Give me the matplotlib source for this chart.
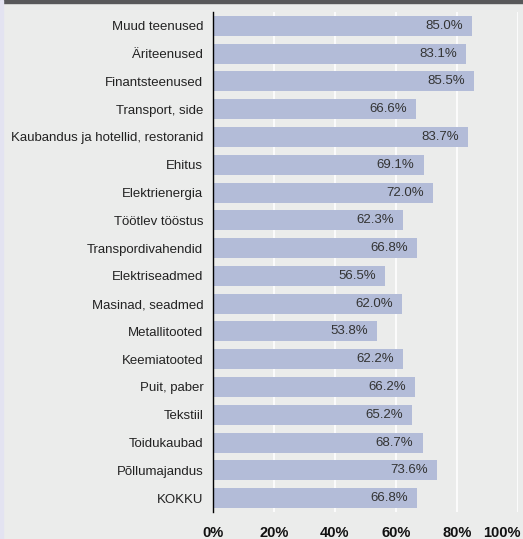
import matplotlib.pyplot as plt
import matplotlib.transforms as mtransforms
import numpy as np

# andmed (ülevalt alla)
categories = ["Muud teenused", "Äriteenused", "Finantsteenused", "Transport, side",
              "Kaubandus ja hotellid, restoranid", "Ehitus", "Elektrienergia",
              "Töötlev tööstus", "Transpordivahendid", "Elektriseadmed",
              "Masinad, seadmed", "Metallitooted", "Keemiatooted", "Puit, paber",
              "Tekstiil", "Toidukaubad", "Põllumajandus", "KOKKU"]
values = [85.0, 83.1, 85.5, 66.6, 83.7, 69.1, 72.0, 62.3, 66.8, 56.5,
          62.0, 53.8, 62.2, 66.2, 65.2, 68.7, 73.6, 66.8]
x_ticks = [0, 20, 40, 60, 80, 100]
x_tick_labels = ["0%", "20%", "40%", "60%", "80%", "100%"]

bg = "#EBECEB"
bar_color = "#B3BCD8"

plt.rcParams['font.family'] = ['Liberation Sans', 'DejaVu Sans']

fig = plt.figure(figsize=(5.23, 5.39), dpi=100, facecolor=bg)
ax = fig.add_axes([213 / 523, 27 / 539, 305 / 523, 500 / 539])
ax.set_facecolor(bg)

# kaunistused: tume riba üleval, lilla riba vasakul
fig.patches.append(plt.Rectangle((0, 1 - 3 / 539), 1, 3 / 539, transform=fig.transFigure,
                                 color="#58585A", zorder=0))
fig.patches.append(plt.Rectangle((0, 0), 3 / 523, 1, transform=fig.transFigure,
                                 color="#E3E3F1", zorder=0))

y = np.arange(len(categories))
ax.barh(y, values, height=0.72, color=bar_color, zorder=2)

for yi, v in zip(y, values):
    ax.text(v - 3.0, yi, f"{v:.1f}%", ha="right", va="center",
            fontsize=9.5, color="#333333", zorder=3)

ax.set_ylim(len(categories) - 0.5, -0.5)
ax.set_xlim(0, 100)
ax.set_yticks(y)
ax.set_yticklabels(categories, fontsize=9.5, color="#222222")
ax.set_xticks(x_ticks)
ax.set_xticklabels(x_tick_labels, fontsize=10.5, fontweight="bold", color="#111111")
ax.tick_params(axis="both", length=0)
ax.tick_params(axis="y", pad=7)
ax.tick_params(axis="x", pad=10)

# viimane silt nihutatakse vasakule, et mahuks pildile
last = ax.get_xticklabels()[-1]
last.set_transform(last.get_transform() +
                   mtransforms.ScaledTranslation(-16 / 100, 0, fig.dpi_scale_trans))

ax.grid(axis="x", color="white", linewidth=1.2, zorder=1)
for s in ["top", "right", "bottom"]:
    ax.spines[s].set_visible(False)
ax.spines["left"].set_color("black")
ax.spines["left"].set_linewidth(1.0)
ax.spines["left"].set_zorder(4)

fig.savefig("out.png", dpi=100, facecolor=bg)
